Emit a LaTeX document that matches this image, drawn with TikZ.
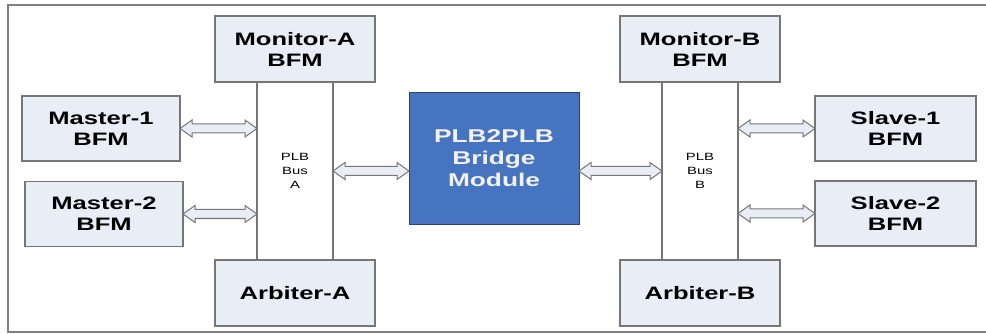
\documentclass[tikz,border=0pt]{standalone}
\usepackage{fontspec}
\newfontfamily\blockfont{Liberation Sans}[FakeStretch=1.42]
\usetikzlibrary{positioning,calc}
\definecolor{boxfill}{HTML}{E9EDF6}
\definecolor{boxline}{HTML}{767676}
\definecolor{bridgefill}{HTML}{4674C1}
\definecolor{bridgeline}{HTML}{2B426B}
\tikzset{%
  block/.style  = {draw=boxline, fill=boxfill, line width=1.6pt, minimum width=160pt,
    minimum height=66pt, inner sep=0pt, outer sep=0pt, align=center,
    font=\blockfont\bfseries\fontsize{18}{21}\selectfont},
  bus/.style    = {draw=boxline, fill=white, line width=1.6pt, minimum width=76pt,
    minimum height=178pt, inner sep=0pt, outer sep=0pt, align=center,
    font=\blockfont\fontsize{10.5}{14}\selectfont}, % PLB bus
  bridge/.style = {draw=bridgeline, fill=bridgefill, text=white!95!black, line width=1pt,
    minimum width=170pt, minimum height=131pt, inner sep=0pt, outer sep=0pt, align=center,
    font=\blockfont\bfseries\fontsize{18.5}{22}\selectfont},
  link/.style   = {draw=boxline, fill=boxfill, line width=1pt, line join=miter},
  frame/.style  = {draw=gray, line width=2pt}
}
% hollow two-headed arrow between two points
\newcommand{\busarrow}[2]{%
  \draw[link] (#1) -- ++(12,8.5) -- ++(0,-4) -- ($(#2)+(-12,4.5)$) -- ++(0,4) -- (#2)
    -- ++(-12,-8.5) -- ++(0,4) -- ($(#1)+(12,-4.5)$) -- ++(0,-4) -- cycle;}

\begin{document}
\begin{tikzpicture}[x=1pt, y=-1pt]
\useasboundingbox (0,0) rectangle (986,334);
\draw[frame] (986,5.5) -- (8,5.5) -- (8,332) -- (986,332);
% side A
\node[bus, name=busA] at (295,171) {PLB\\Bus\\A};
\node[block, name=monA, above=0pt of busA] {Monitor-A\\BFM};
\node[block, name=arbA, below=0pt of busA] {Arbiter-A};
\node[block, name=mst1, minimum width=158pt, minimum height=65pt] at (101,128.5) {Master-1\\BFM};
\node[block, name=mst2, minimum width=158pt, minimum height=65pt] at (104,214) {Master-2\\BFM};
% bridge
\node[bridge, name=plb] at (494,158.5) {PLB2PLB\\Bridge\\Module};
% side B
\node[bus, name=busB] at (700,171) {PLB\\Bus\\B};
\node[block, name=monB, above=0pt of busB] {Monitor-B\\BFM};
\node[block, name=arbB, below=0pt of busB] {Arbiter-B};
\node[block, name=slv1, minimum width=161pt, minimum height=65pt] at (895.5,128.5) {Slave-1\\BFM};
\node[block, name=slv2, minimum width=161pt, minimum height=65pt] at (895.5,213.5) {Slave-2\\BFM};
% connections
\busarrow{mst1.east}{busA.west|-mst1.east}
\busarrow{mst2.east}{busA.west|-mst2.east}
\busarrow{busA.east}{plb.west|-busA.east}
\busarrow{plb.east|-busB.west}{busB.west}
\busarrow{busB.east|-slv1.west}{slv1.west}
\busarrow{busB.east|-slv2.west}{slv2.west}
\end{tikzpicture}
\end{document}
